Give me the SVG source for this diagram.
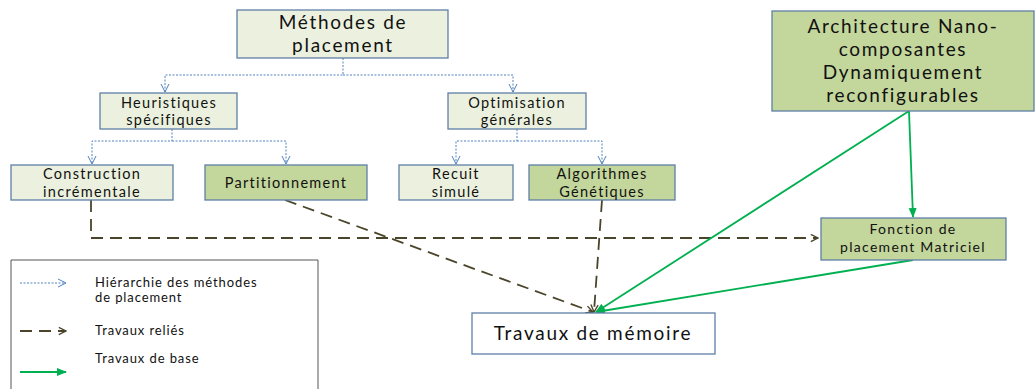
<svg xmlns="http://www.w3.org/2000/svg" width="1035" height="389" viewBox="0 0 1035 389">
  <style>
    .box { stroke: #5f7fa6; stroke-width: 1.3; }
    .light { fill: #ebf1de; }
    .green { fill: #c3d69b; }
    .white { fill: #ffffff; }
    text { font-family: Lato, "Open Sans", sans-serif; fill: #111; text-anchor: middle; }
    .big { font-size: 19px; letter-spacing: 1.7px; }
    .mid { font-size: 14.5px; letter-spacing: 1.3px; }
    .sm { font-size: 14px; letter-spacing: 1.3px; }
    .leg { font-size: 13px; letter-spacing: 0.9px; text-anchor: start; }
    .hier { fill: none; stroke: #4f81bd; stroke-width: 1; stroke-dasharray: 2 1.5; }
    .rel { fill: none; stroke: #4a452a; stroke-width: 1.8; stroke-dasharray: 12 7; }
    .base { fill: none; stroke: #00b050; stroke-width: 1.8; }
  </style>
  <defs>
    <marker id="mHier" viewBox="0 0 10 10" refX="9" refY="5" markerWidth="10" markerHeight="10" markerUnits="userSpaceOnUse" orient="auto">
      <path d="M1,1 L9,5 L1,9" fill="none" stroke="#4f81bd" stroke-width="1"/>
    </marker>
    <marker id="mRel" viewBox="0 0 10 10" refX="9" refY="5" markerWidth="9" markerHeight="9" markerUnits="userSpaceOnUse" orient="auto">
      <path d="M1,1 L9,5 L1,9" fill="none" stroke="#4a452a" stroke-width="1.5"/>
    </marker>
    <marker id="mBase" viewBox="0 0 10 10" refX="9" refY="5" markerWidth="10" markerHeight="10" markerUnits="userSpaceOnUse" orient="auto">
      <path d="M0,1 L10,5 L0,9 Z" fill="#00b050"/>
    </marker>
  </defs>

  <rect width="1035" height="389" fill="#ffffff"/>

  <!-- connectors -->
  <g id="connectors">
    <path class="hier" d="M343,58 V75 H165 V92" marker-end="url(#mHier)"/>
    <path class="hier" d="M343,75 H513 V92" marker-end="url(#mHier)"/>
    <path class="hier" d="M172,129 V141 H92 V164" marker-end="url(#mHier)"/>
    <path class="hier" d="M172,141 H286 V164" marker-end="url(#mHier)"/>
    <path class="hier" d="M517,129 V141 H456 V164" marker-end="url(#mHier)"/>
    <path class="hier" d="M517,141 H602 V164" marker-end="url(#mHier)"/>

    <path class="rel" d="M91,200 V238 H818" marker-end="url(#mRel)"/>
    <path class="rel" d="M285,200 L593,312" marker-end="url(#mRel)"/>
    <path class="rel" d="M602,200 L594,312" marker-end="url(#mRel)"/>

    <path class="base" d="M909,111 L913,217" marker-end="url(#mBase)"/>
    <path class="base" d="M909,111 L596,312" marker-end="url(#mBase)"/>
    <path class="base" d="M913,260 L596,312" marker-end="url(#mBase)"/>
  </g>

  <!-- nodes -->
  <g id="methodes">
    <rect class="box light" x="237" y="10" width="211" height="48"/>
    <text class="big" x="343" y="29">Méthodes de</text>
    <text class="big" x="343" y="52">placement</text>
  </g>
  <g id="heuristiques">
    <rect class="box light" x="100" y="93" width="137" height="36"/>
    <text class="mid" x="169" y="107.5">Heuristiques</text>
    <text class="mid" x="169" y="125">spécifiques</text>
  </g>
  <g id="optimisation">
    <rect class="box light" x="448" y="93" width="138" height="36"/>
    <text class="mid" x="517" y="107.5">Optimisation</text>
    <text class="mid" x="517" y="125">générales</text>
  </g>
  <g id="construction">
    <rect class="box light" x="11" y="165" width="162" height="35"/>
    <text class="mid" x="92" y="179">Construction</text>
    <text class="mid" x="92" y="196.5">incrémentale</text>
  </g>
  <g id="partitionnement">
    <rect class="box green" x="205" y="165" width="162" height="35"/>
    <text class="mid" x="286" y="188">Partitionnement</text>
  </g>
  <g id="recuit">
    <rect class="box light" x="399" y="165" width="114" height="35"/>
    <text class="mid" x="456" y="179">Recuit</text>
    <text class="mid" x="456" y="196.5">simulé</text>
  </g>
  <g id="algorithmes">
    <rect class="box green" x="529" y="165" width="146" height="35"/>
    <text class="mid" x="602" y="179">Algorithmes</text>
    <text class="mid" x="602" y="196.5">Génétiques</text>
  </g>
  <g id="architecture">
    <rect class="box green" x="772" y="11" width="262" height="100"/>
    <text class="big" x="903" y="33">Architecture Nano-</text>
    <text class="big" x="903" y="56">composantes</text>
    <text class="big" x="903" y="79">Dynamiquement</text>
    <text class="big" x="903" y="102">reconfigurables</text>
  </g>
  <g id="fonction">
    <rect class="box green" x="821" y="218" width="185" height="42"/>
    <text class="sm" x="913" y="234">Fonction de</text>
    <text class="sm" x="913" y="252">placement Matriciel</text>
  </g>
  <g id="travaux">
    <rect class="box white" x="472" y="313" width="243" height="41"/>
    <text class="big" x="593" y="340">Travaux de mémoire</text>
  </g>

  <!-- legend -->
  <g id="legend">
    <path d="M11,389 V260 H318 V389" fill="none" stroke="#555" stroke-width="1"/>
    <path class="hier" d="M20,283 H66" marker-end="url(#mHier)"/>
    <text class="leg" x="95" y="287">Hiérarchie des méthodes</text>
    <text class="leg" x="95" y="302">de placement</text>
    <path class="rel" d="M20,331 H66" stroke-dasharray="14 6" stroke-width="1.5" marker-end="url(#mRel)"/>
    <text class="leg" x="95" y="335">Travaux reliés</text>
    <text class="leg" x="95" y="363">Travaux de base</text>
    <path class="base" d="M20,372 H66" marker-end="url(#mBase)"/>
  </g>
</svg>
